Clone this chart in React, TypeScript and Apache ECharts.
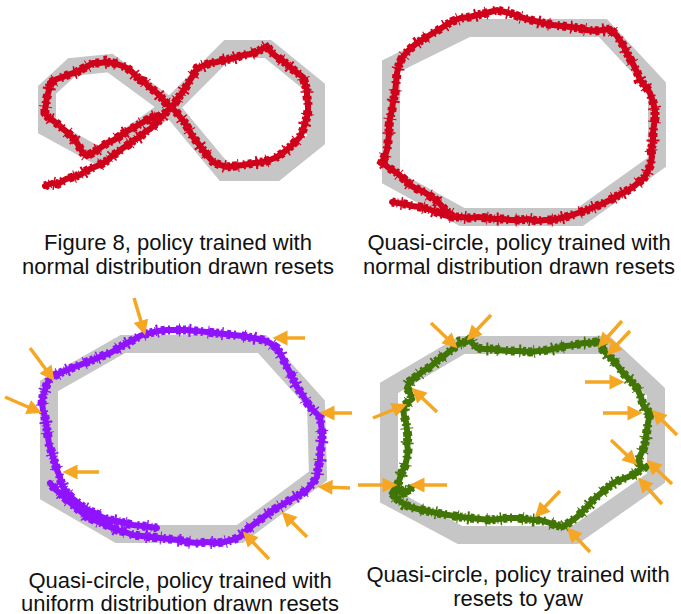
import React, { useEffect, useRef } from "react";
import * as echarts from "echarts";

const W = 681;
const H = 614;

// Gray reference tracks (centre lines, page pixel coordinates)
const track1: number[][] = [[170,107],[228,49],[268,49],[316,88],[316,140],[276,172],[224,172],[170,107],[110,63],[72,67],[47,90],[47,128],[100,157],[170,107],[228,49]];
const track2: number[][] = [[468,28],[603,28],[657,86],[657,162],[580,217],[462,217],[391,178],[391,66],[468,28],[603,28]];
const track3: number[][] = [[123,344],[262,344],[316,404],[318,476],[240,534],[118,534],[49,494],[49,386],[123,344],[262,344]];
const track4: number[][] = [[462,345],[606,345],[656,392],[656,478],[575,535],[460,535],[389,497],[389,388],[462,345],[606,345]];

// Flown trajectories
const traj1: number[][] = [[45,186],[52,183],[58,184],[66,179],[73,177],[80,175],[86,171],[92,168],[97,166],[103,163],[108,160],[113,155],[117,153],[123,148],[128,145],[134,140],[140,137],[145,132],[150,129],[154,125],[157,123],[161,118],[163,116],[167,111],[170,108],[175,103],[178,98],[182,93],[186,87],[190,80],[194,74],[197,68],[203,66],[210,63],[217,62],[224,60],[230,59],[237,57],[244,55],[250,54],[257,52],[262,49],[267,46],[271,52],[277,57],[283,61],[290,67],[296,72],[303,77],[305,84],[307,90],[307,97],[308,104],[308,110],[307,117],[305,123],[303,130],[300,137],[295,142],[290,147],[284,152],[277,157],[270,160],[263,162],[254,163],[243,165],[235,166],[227,167],[220,165],[213,162],[208,156],[203,150],[198,143],[193,137],[189,130],[185,123],[181,118],[177,113],[173,109],[170,106],[165,102],[161,97],[157,93],[152,89],[148,86],[144,81],[140,80],[135,75],[131,71],[127,68],[120,65],[113,63],[106,62],[100,63],[93,63],[86,67],[80,70],[77,72],[70,74],[63,77],[57,79],[50,83],[49,90],[47,97],[46,104],[45,110],[45,113],[48,117],[52,120],[55,122],[60,126],[63,129],[67,132],[71,136],[74,139],[77,143],[80,148],[83,153],[87,156],[94,152],[100,148],[107,143],[114,140],[120,136],[127,131],[133,128],[140,124],[147,120],[153,117],[158,115]];
const traj2: number[][] = [[392,202],[398,203],[405,204],[412,206],[420,207],[428,209],[436,212],[444,215],[453,217],[461,217],[470,218],[478,217],[487,218],[495,219],[503,219],[511,220],[520,220],[528,219],[537,221],[545,220],[553,220],[561,218],[569,216],[578,213],[587,210],[594,207],[602,204],[610,200],[617,196],[625,192],[633,187],[639,182],[644,178],[647,173],[650,166],[652,157],[651,150],[653,142],[653,133],[654,125],[655,118],[655,110],[653,102],[650,93],[646,87],[640,80],[637,72],[633,64],[628,55],[623,45],[617,36],[610,29],[603,30],[595,31],[587,30],[579,28],[570,27],[562,26],[553,25],[543,23],[535,21],[527,19],[520,17],[513,14],[505,12],[497,10],[490,12],[483,14],[477,15],[470,17],[461,18],[453,21],[446,25],[440,29],[433,33],[425,38],[417,43],[411,48],[406,53],[402,58],[399,65],[397,73],[396,83],[395,93],[393,102],[392,110],[390,118],[389,126],[389,134],[388,142],[387,150],[384,158],[382,162],[389,168],[397,173],[404,179],[410,185],[417,189],[424,192],[430,196],[436,200],[441,205],[446,211],[453,215]];
const traj3: number[][] = [[157,528],[150,527],[143,526],[133,525],[125,523],[117,521],[110,520],[102,517],[95,513],[88,510],[83,507],[77,502],[72,498],[67,493],[63,487],[61,482],[60,477],[57,470],[55,463],[53,457],[51,450],[49,444],[48,437],[47,430],[46,423],[45,417],[43,410],[42,403],[43,396],[45,390],[47,384],[50,378],[56,375],[62,372],[67,370],[74,367],[80,365],[87,362],[95,359],[102,356],[110,353],[117,349],[125,344],[133,340],[140,336],[145,334],[150,333],[158,331],[167,330],[177,330],[186,330],[196,331],[207,332],[216,333],[225,334],[233,335],[243,336],[253,338],[263,340],[270,343],[277,348],[281,355],[284,361],[287,367],[291,374],[294,381],[297,387],[302,394],[306,401],[310,407],[315,412],[320,417],[321,424],[322,432],[322,440],[321,447],[320,454],[320,460],[318,468],[317,477],[312,484],[307,490],[299,495],[290,500],[282,505],[273,510],[265,516],[257,522],[249,528],[240,537],[232,540],[224,542],[217,543],[207,542],[197,543],[187,542],[178,540],[169,539],[160,538],[151,537],[142,536],[133,535],[125,532],[117,530],[110,527],[102,523],[94,520],[87,517],[80,511],[73,505],[67,500],[61,494],[55,489],[50,483]];
const traj4: number[][] = [[412,487],[407,492],[400,490],[395,488],[392,493],[397,499],[404,504],[410,507],[418,509],[427,511],[437,513],[448,515],[460,517],[470,518],[480,519],[490,520],[499,519],[508,518],[517,518],[525,519],[533,520],[540,520],[547,522],[555,525],[563,527],[570,522],[577,517],[583,511],[588,506],[593,500],[600,494],[606,489],[613,483],[620,480],[628,477],[637,473],[642,467],[638,462],[640,456],[643,450],[645,443],[646,437],[647,430],[648,423],[649,418],[650,413],[646,409],[643,405],[641,397],[637,388],[631,381],[623,373],[618,366],[613,360],[608,355],[603,350],[603,342],[596,342],[590,343],[583,343],[575,345],[566,346],[557,348],[548,350],[539,351],[530,352],[520,351],[510,351],[500,350],[492,349],[484,349],[477,348],[472,343],[470,339],[466,342],[460,343],[455,347],[450,351],[445,355],[438,360],[430,367],[423,371],[417,376],[410,381],[407,388],[410,393],[412,399],[406,404],[403,408],[404,415],[406,422],[407,430],[408,437],[407,444],[408,450],[407,458],[405,466],[402,472],[400,478],[398,484],[397,490],[403,493],[408,492]];

// Reset arrows: [tailX, tailY, tipX, tipY]
const arrows3: number[][] = [[134,298,143,328],[30,348,50,375],[5,397,35,410],[305,338,280,338],[352,413,327,413],[99,472,70,472],[350,488,325,487],[307,537,287,517],[269,559,248,537]];
const arrows4: number[][] = [[431,323,452,343],[491,315,472,335],[622,321,603,342],[630,331,612,350],[585,382,617,382],[603,413,635,413],[677,435,657,415],[611,440,632,460],[672,484,652,465],[662,504,643,483],[590,552,572,533],[560,491,540,512],[447,485,417,485],[358,485,390,485],[373,418,400,407],[437,412,417,393]];

const captions: { x: number; y: number; text: string }[] = [
  { x: 178, y: 242, text: "Figure 8, policy trained with" },
  { x: 178, y: 266, text: "normal distribution drawn resets" },
  { x: 519, y: 242, text: "Quasi-circle, policy trained with" },
  { x: 519, y: 266, text: "normal distribution drawn resets" },
  { x: 180, y: 580, text: "Quasi-circle, policy trained with" },
  { x: 180, y: 603, text: "uniform distribution drawn resets" },
  { x: 518, y: 574, text: "Quasi-circle, policy trained with" },
  { x: 518, y: 598, text: "resets to yaw" },
];

const GRAY = "#c6c6c6";
const RED = "#d0021b";
const PURPLE = "#9013fe";
const GREEN = "#417505";
const ORANGE = "#f5a623";

function trajSeries(data: number[][], color: string) {
  const base = { type: "line", data, symbol: "none", z: 2, silent: true };
  return [
    { ...base, lineStyle: { width: 6, color, join: "miter", miterLimit: 8, cap: "round" } },
    { ...base, lineStyle: { width: 9, color, type: [3, 2, 1, 5, 4, 3, 2, 6, 5, 2], cap: "butt", join: "miter" } },
    { ...base, lineStyle: { width: 13, color, type: [1, 13, 1.5, 21, 1, 9, 2, 17], dashOffset: 5, cap: "butt", join: "miter" } },
  ];
}

export default function App() {
  const ref = useRef<HTMLDivElement>(null);
  useEffect(() => {
    if (!ref.current) return;
    const chart = echarts.init(ref.current, undefined, { renderer: "svg" });
    const track = (data: number[][]) => ({
      type: "line",
      data,
      symbol: "none",
      z: 1,
      silent: true,
      lineStyle: { width: 18, color: GRAY, join: "miter", cap: "butt" },
    });
    const arrowSeries = (arr: number[][]) => ({
      type: "lines",
      coordinateSystem: "cartesian2d",
      z: 3,
      silent: true,
      symbol: ["none", "triangle"],
      symbolSize: 15,
      lineStyle: { width: 3.5, color: ORANGE, opacity: 1, curveness: 0 },
      data: arr.map((a) => ({ coords: [[a[0], a[1]], [a[2], a[3]]] })),
    });
    chart.setOption({
      animation: false,
      backgroundColor: "#ffffff",
      grid: { left: 0, right: 0, top: 0, bottom: 0 },
      xAxis: { type: "value", min: 0, max: W, show: false },
      yAxis: { type: "value", min: 0, max: H, inverse: true, show: false },
      series: [
        track(track1),
        track(track2),
        track(track3),
        track(track4),
        ...trajSeries(traj1, RED),
        ...trajSeries(traj2, RED),
        ...trajSeries(traj3, PURPLE),
        ...trajSeries(traj4, GREEN),
        arrowSeries(arrows3),
        arrowSeries(arrows4),
      ],
      graphic: captions.map((c) => ({
        type: "text",
        x: c.x,
        y: c.y,
        z: 10,
        style: {
          text: c.text,
          fill: "#111111",
          font: '22px "Liberation Sans", Arial, sans-serif',
          align: "center",
          verticalAlign: "middle",
        },
      })),
    });
    return () => chart.dispose();
  }, []);
  return (
    <div
      ref={ref}
      style={{ position: "fixed", left: 0, top: 0, width: W, height: H, background: "#fff" }}
    />
  );
}
